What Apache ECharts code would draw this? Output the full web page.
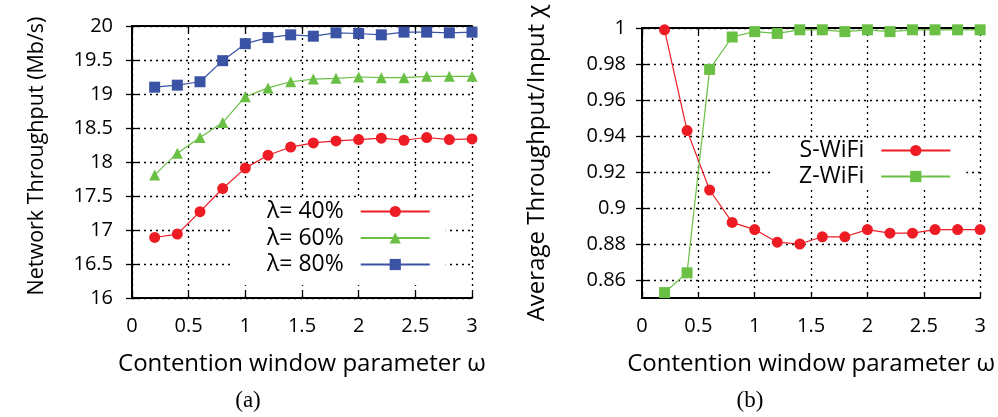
<!DOCTYPE html>
<html>
<head>
<meta charset="utf-8">
<script src="https://cdn.jsdelivr.net/npm/echarts@6/dist/echarts.min.js"></script>
<style>
html,body{margin:0;padding:0;background:#fff;}
#chart{width:998px;height:417px;}
</style>
</head>
<body>
<div id="chart"></div>
<script>
// ---- data ----
const omega = [0.2, 0.4, 0.6, 0.8, 1.0, 1.2, 1.4, 1.6, 1.8, 2.0, 2.2, 2.4, 2.6, 2.8, 3.0];
const lambda40 = [16.89, 16.94, 17.27, 17.61, 17.91, 18.10, 18.22, 18.28, 18.31, 18.33, 18.35, 18.32, 18.36, 18.33, 18.34];
const lambda60 = [17.81, 18.13, 18.36, 18.58, 18.96, 19.09, 19.18, 19.22, 19.23, 19.25, 19.24, 19.24, 19.26, 19.26, 19.26];
const lambda80 = [19.10, 19.13, 19.18, 19.49, 19.74, 19.83, 19.87, 19.85, 19.90, 19.89, 19.87, 19.91, 19.91, 19.90, 19.91];
const sWiFi = [0.999, 0.943, 0.910, 0.892, 0.888, 0.881, 0.880, 0.884, 0.884, 0.888, 0.886, 0.886, 0.888, 0.888, 0.888];
const zWiFi = [0.853, 0.864, 0.977, 0.995, 0.998, 0.997, 0.999, 0.999, 0.998, 0.999, 0.998, 0.999, 0.999, 0.999, 0.999];
const rightYTicks = [0.86, 0.88, 0.90, 0.92, 0.94, 0.96, 0.98, 1.0];
const seriesNamesA = ['λ= 40%', 'λ= 60%', 'λ= 80%'];
const seriesNamesB = ['S-WiFi', 'Z-WiFi'];
const axisTitles = {
  x: 'Contention window parameter ω',
  yA: 'Network Throughput (Mb/s)',
  yB: 'Average Throughput/Input χ'
};
const captions = ['(a)', '(b)'];

// ---- styles ----
const FONT = 'Open Sans';
const RED = '#ED1C24', GREEN = '#6ABF45', BLUE = '#3A53A4';
const gridLine = { show: true, lineStyle: { color: '#000', type: [2, 4], width: 1.3 } };
const frameLine = { show: true, lineStyle: { color: '#000', width: 2 } };
const inTick = { show: true, inside: true, length: 6, lineStyle: { color: '#000', width: 1.3 } };
const tickLabel = { color: '#000', fontFamily: FONT, fontSize: 20 };
const nameStyle = { color: '#000', fontFamily: FONT, fontSize: 24 };

function pairs(ys) { return omega.map((x, i) => [x, ys[i]]); }

function mkSeries(name, ys, color, symbol, size, xi, yi) {
  return {
    type: 'line', name: name, data: pairs(ys),
    xAxisIndex: xi, yAxisIndex: yi,
    symbol: symbol, symbolSize: size, clip: false,
    lineStyle: { color: color, width: 1.2 },
    itemStyle: { color: color },
    emphasis: { disabled: true }
  };
}

const chart = echarts.init(document.getElementById('chart'), null, { renderer: 'canvas' });
chart.setOption({
  animation: false,
  backgroundColor: '#fff',
  grid: [
    { left: 132, right: 526, top: 26, bottom: 119, containLabel: false },
    { left: 642, right: 17, top: 28, bottom: 119, containLabel: false }
  ],
  xAxis: [
    { type: 'value', gridIndex: 0, min: 0, max: 3, interval: 0.5, position: 'bottom',
      axisLine: frameLine, axisTick: inTick, splitLine: gridLine,
      axisLabel: Object.assign({ margin: 18 }, tickLabel),
      name: axisTitles.x, nameLocation: 'middle', nameGap: 54, nameTextStyle: nameStyle },
    { type: 'value', gridIndex: 0, min: 0, max: 3, interval: 0.5, position: 'top',
      axisLine: frameLine, axisTick: inTick, splitLine: { show: false }, axisLabel: { show: false } },
    { type: 'value', gridIndex: 1, min: 0, max: 3, interval: 0.5, position: 'bottom',
      axisLine: frameLine, axisTick: inTick, splitLine: gridLine,
      axisLabel: Object.assign({ margin: 18 }, tickLabel),
      name: axisTitles.x, nameLocation: 'middle', nameGap: 54, nameTextStyle: nameStyle },
    { type: 'value', gridIndex: 1, min: 0, max: 3, interval: 0.5, position: 'top',
      axisLine: frameLine, axisTick: inTick, splitLine: { show: false }, axisLabel: { show: false } }
  ],
  yAxis: [
    { type: 'value', gridIndex: 0, min: 16, max: 20, interval: 0.5, position: 'left',
      axisLine: frameLine, axisTick: inTick, splitLine: gridLine,
      axisLabel: Object.assign({ margin: 19 }, tickLabel),
      name: axisTitles.yA, nameLocation: 'middle', nameGap: 84,
      nameTextStyle: Object.assign({}, nameStyle, { fontSize: 21.5, padding: [0, 0, 0, 12] }) },
    { type: 'value', gridIndex: 0, min: 16, max: 20, interval: 0.5, position: 'right',
      axisLine: frameLine, axisTick: inTick, splitLine: { show: false }, axisLabel: { show: false } },
    { type: 'value', gridIndex: 1, min: 0.85, max: 1, position: 'left',
      axisLine: frameLine,
      axisTick: Object.assign({ customValues: rightYTicks }, inTick),
      splitLine: gridLine,
      axisLabel: Object.assign({ margin: 16, customValues: rightYTicks }, tickLabel),
      name: axisTitles.yB, nameLocation: 'middle', nameGap: 93, nameTextStyle: nameStyle },
    { type: 'value', gridIndex: 1, min: 0.85, max: 1, position: 'right',
      axisLine: frameLine,
      axisTick: Object.assign({ customValues: rightYTicks }, inTick),
      splitLine: { show: false }, axisLabel: { show: false } }
  ],
  legend: [
    { data: seriesNamesA, orient: 'vertical', align: 'right', left: 232, top: 198,
      padding: [2, 15, 9, 35], itemGap: 3.5, itemWidth: 69, itemHeight: 14,
      backgroundColor: '#fff', selectedMode: false,
      textStyle: { color: '#000', fontFamily: FONT, fontSize: 23, padding: [0, 12, 0, 0] } },
    { data: seriesNamesB, orient: 'vertical', align: 'right', left: 772, top: 139,
      padding: [0, 15, 2, 27], itemGap: 3, itemWidth: 69, itemHeight: 14,
      backgroundColor: '#fff', selectedMode: false,
      textStyle: { color: '#000', fontFamily: FONT, fontSize: 23, padding: [0, 12, 0, 0] } }
  ],
  series: [
    mkSeries(seriesNamesA[0], lambda40, RED, 'circle', 11, 0, 0),
    mkSeries(seriesNamesA[1], lambda60, GREEN, 'triangle', 11, 0, 0),
    mkSeries(seriesNamesA[2], lambda80, BLUE, 'rect', 11, 0, 0),
    mkSeries(seriesNamesB[0], sWiFi, RED, 'circle', 11, 2, 2),
    mkSeries(seriesNamesB[1], zWiFi, GREEN, 'rect', 11, 2, 2)
  ],
  graphic: [
    { type: 'text', x: 248, y: 401, style: { text: captions[0], fill: '#000', font: '23px "Liberation Serif"', align: 'center', verticalAlign: 'middle' } },
    { type: 'text', x: 750, y: 401, style: { text: captions[1], fill: '#000', font: '23px "Liberation Serif"', align: 'center', verticalAlign: 'middle' } }
  ]
});
</script>
</body>
</html>
